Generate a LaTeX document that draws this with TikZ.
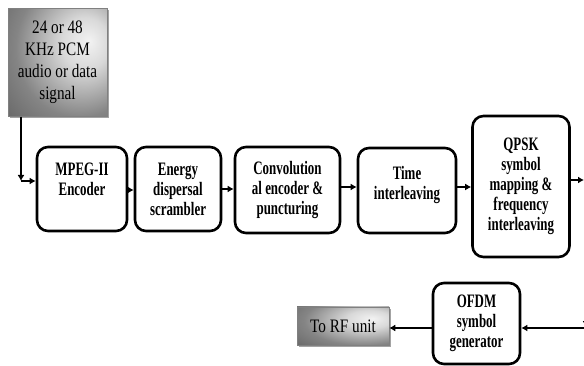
\documentclass[tikz,border=0pt]{standalone}
\usepackage{fontspec}
\setmainfont{Liberation Serif}
\newfontfamily\blkfont{Liberation Serif}[FakeStretch=0.68]
\newfontfamily\regfont{Liberation Serif}[FakeStretch=0.8]
\usetikzlibrary{arrows.meta,shadows}
\pgfdeclareradialshading{boxshade}{\pgfpoint{16bp}{10bp}}{color(0bp)=(black!5); color(12bp)=(black!15); color(32bp)=(black!48); color(55bp)=(black!66); color(100bp)=(black!72)}
\tikzset{
  blk/.style={draw=black, line width=2.6pt, rounded corners=11pt, fill=white, align=center,
    font=\blkfont\bfseries\fontsize{19}{20}\selectfont, inner sep=2pt},
  graybox/.style={draw=black!50, line width=0.5pt, shading=boxshade, align=center,
    font=\regfont\fontsize{19}{22}\selectfont, inner sep=2pt,
    drop shadow={shadow xshift=2pt, shadow yshift=-2pt, fill=black!45, opacity=0.8}},
  arr/.style={line width=1.7pt, -{Latex[length=6pt,width=7pt]}},
}
\begin{document}
\begin{tikzpicture}[x=1pt,y=-1pt]
\useasboundingbox (0,0) rectangle (584,366);
\clip (0,0) rectangle (584,366);
% source
\node[graybox, minimum width=99pt, minimum height=108pt] (src) at (57.5,62.5)
  {24 or 48\\KHz PCM\\audio or data\\signal};
% chain
\node[blk, minimum width=90pt, minimum height=84pt, text depth=20pt] (mpeg) at (82,189) {MPEG-II\\Encoder};
\node[blk, minimum width=86pt, minimum height=84pt] (energy) at (178,189) {Energy\\dispersal\\scrambler};
\node[blk, minimum width=105pt, minimum height=86pt] (conv) at (287.5,190) {Convolution\\al encoder \&\\puncturing};
\node[blk, minimum width=98pt, minimum height=85pt, text depth=16pt] (time) at (407,190.5) {Time\\interleaving};
\node[blk, minimum width=97pt, minimum height=141pt] (qpsk) at (521,186.5) {QPSK\\symbol\\mapping \&\\frequency\\interleaving};
\node[blk, minimum width=87pt, minimum height=81pt] (ofdm) at (476.5,323.5) {OFDM\\symbol\\generator};
\node[graybox, font=\regfont\fontsize{19}{21}\selectfont, minimum width=92pt, minimum height=38pt] (rf) at (343,326) {To RF unit};
% connectors
\coordinate (bend) at (21,181);
\draw[arr] (src.south -| bend) -- (bend);
\draw[arr] (bend) -- (bend -| mpeg.west);
\draw[arr] (mpeg.east |- 0,190) -- (energy.west |- 0,190);
\draw[arr] (energy.east |- 0,189) -- (conv.west |- 0,189);
\draw[arr] (conv.east |- 0,187) -- (time.west |- 0,187);
\draw[arr] (time.east |- 0,187) -- (qpsk.west |- 0,187);
\coordinate (qout) at (584,180);
\draw[arr] (qpsk.east |- qout) -- (qout);
\coordinate (rtop) at (586,290);
\coordinate (rt) at (586,327);
\draw[arr] (rtop) -- (rt);
\coordinate (rin) at (586,328);
\draw[arr] (rin) -- (rin -| ofdm.east);
\draw[arr] (ofdm.west |- rin) -- (rin -| rf.east);
\end{tikzpicture}
\end{document}
